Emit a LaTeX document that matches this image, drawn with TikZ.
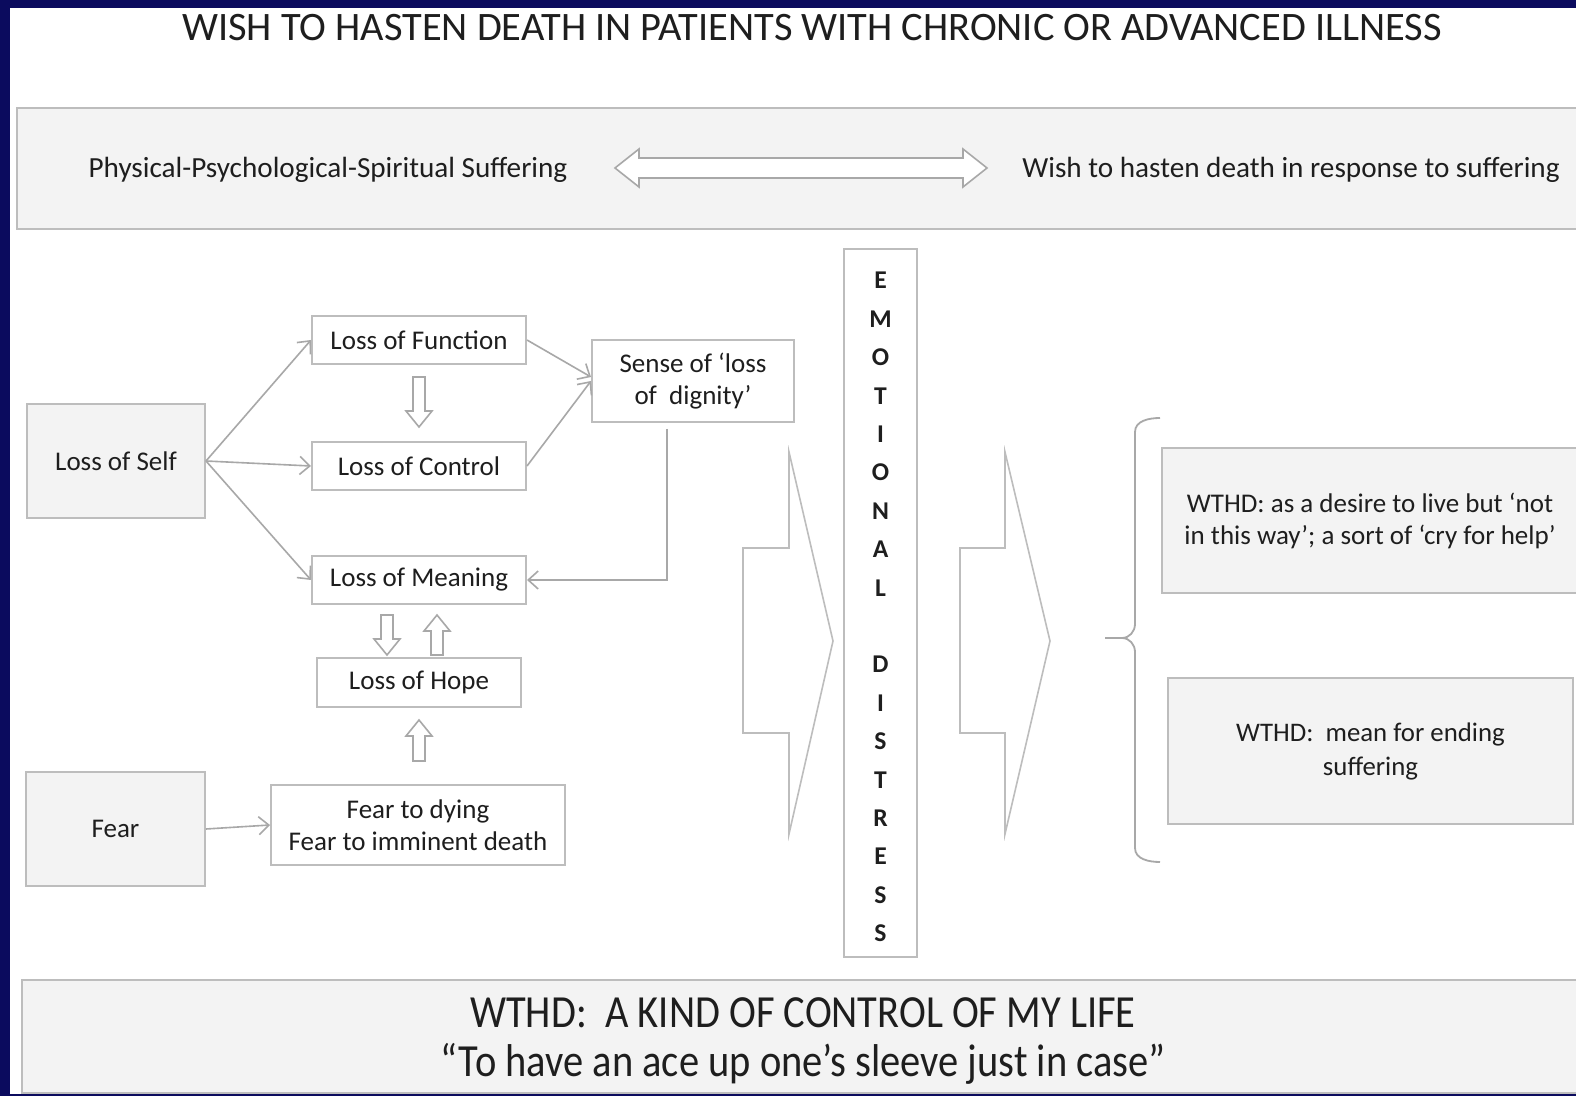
\documentclass[tikz,border=0pt]{standalone}
\usepackage{fontspec}
\setmainfont{Carlito}
\newfontfamily\condfont[FakeStretch=0.88]{Carlito}
\usetikzlibrary{arrows.meta,calc}
\definecolor{navy}{HTML}{0B0B5E}
\definecolor{bandfill}{HTML}{F3F3F3}
\definecolor{boxline}{HTML}{BDBDBD}
\definecolor{lineg}{HTML}{A8A8A8}
\definecolor{txt}{HTML}{1E1E1E}
\newcommand{\downblk}[3]{\draw[blk] (#1-6,#2) -- (#1+6,#2) -- (#1+6,#3-16) -- (#1+13,#3-16) -- (#1,#3) -- (#1-13,#3-16) -- (#1-6,#3-16) -- cycle;}
\newcommand{\upblk}[3]{\draw[blk] (#1-6,#3) -- (#1+6,#3) -- (#1+6,#2+16) -- (#1+13,#2+16) -- (#1,#2) -- (#1-13,#2+16) -- (#1-6,#2+16) -- cycle;}
\begin{document}
\begin{tikzpicture}[x=0.5pt,y=-0.5pt,
  box/.style={draw=boxline, line width=1pt, fill=white, text=txt, font=\fontsize{13.5}{16}\selectfont, align=center, inner sep=0pt},
  gbox/.style={box, fill=bandfill},
  conn/.style={draw=lineg, line width=0.8pt, -{Straight Barb[length=5pt,width=9pt]}},
  blk/.style={draw=lineg, line width=0.8pt, fill=white},
  lbl/.style={text=txt, font=\fontsize{14.6}{17}\selectfont, inner sep=0pt}]
\useasboundingbox (0,0) rectangle (1576,1096);
\fill[navy] (0,0) rectangle (1576,1096);
\fill[white] (10,8) rectangle (1576,1094);

% title
\node[text=txt, font=\fontsize{20.2}{22}\selectfont, inner sep=0pt] (title) at (812,28) {WISH TO HASTEN DEATH IN PATIENTS WITH CHRONIC OR ADVANCED ILLNESS};

% top band
\node[gbox, minimum width=782.5pt, minimum height=60.5pt] (band) at (799.5,168.5) {};
\node[lbl] (phys) at (328,170) {Physical-Psychological-Spiritual Suffering};
\node[lbl] (wish) at (1291,170) {Wish to hasten death in response to suffering};
\draw[blk] (615,168) -- (639,149) -- (639,158) -- (963,158) -- (963,149) -- (987,168) -- (963,187) -- (963,178) -- (639,178) -- (639,187) -- cycle;

% left nodes
\node[gbox, minimum width=89pt, minimum height=57pt] (self) at (116,461) {Loss of Self};
\node[box, minimum width=107pt, minimum height=24pt] (func) at (419,340) {Loss of Function};
\node[box, minimum width=107pt, minimum height=24pt] (ctrl) at (419,466) {Loss of Control};
\node[box, minimum width=107pt, minimum height=24pt] (mean) at (419,580) {Loss of Meaning};
\node[box, minimum width=102pt, minimum height=24.5pt] (hope) at (419,682.5) {Loss of Hope};
\node[box, minimum width=101pt, minimum height=41pt, font=\fontsize{13.5}{16}\selectfont] (sense) at (693,381) {Sense of ‘loss\\of~ dignity’};
\node[gbox, minimum width=89.5pt, minimum height=57pt] (fear) at (115.5,829) {Fear};
\node[box, minimum width=147pt, minimum height=40pt, font=\fontsize{13.5}{16}\selectfont] (feart) at (418,825) {Fear to dying\\Fear to imminent death};

% connectors
\draw[conn] (self.east) -- (func.west);
\draw[conn] (self.east) -- (ctrl.west);
\draw[conn] (self.east) -- (mean.west);
\draw[conn] (func.east) -- ([yshift=2pt]sense.west);
\draw[conn] (ctrl.east) -- ([yshift=0pt]sense.west);
\draw[conn] ([xshift=-13pt,yshift=-3pt]sense.south) |- (mean.east);
\draw[conn] (fear.east) -- (feart.west);

% hollow block arrows
\downblk{419}{377}{427}
\downblk{387}{615}{655}
\upblk{437}{615}{655}
\upblk{419}{720}{761}

% emotional distress
\node[box, minimum width=36.5pt, minimum height=354pt] (emo) at (880.5,603) {};
\node[text=txt, align=center, inner sep=0pt, font=\bfseries\fontsize{12.8}{19.2}\selectfont] (emotext) at (880.5,607)
  {E\\M\\O\\T\\I\\O\\N\\A\\L\\[19.2pt]D\\I\\S\\T\\R\\E\\S\\S};

% big chevrons
\draw[blk, draw=boxline] (743,548) -- (789,548) -- (789,452) -- (833,641) -- (789,834) -- (789,733) -- (743,733) -- cycle;
\draw[blk, draw=boxline] (960,548) -- (1005,548) -- (1005,452) -- (1050,641) -- (1005,834) -- (1005,733) -- (960,733) -- cycle;

% brace
\draw[draw=lineg, line width=0.9pt] (1160,418) to[out=180,in=90] (1135,432) -- (1135,624) to[out=-90,in=0] (1122,638) -- (1105,638);
\draw[draw=lineg, line width=0.9pt] (1122,638) to[out=0,in=90] (1135,652) -- (1135,848) to[out=-90,in=180] (1160,862);

% right boxes
\node[gbox, minimum width=208pt, minimum height=72.5pt, font=\fontsize{13.5}{16}\selectfont] (w1) at (1370,520.5) {WTHD: as a desire to live but ‘not\\in this way’; a sort of ‘cry for help’};
\node[gbox, minimum width=202.5pt, minimum height=73pt, font=\fontsize{13.4}{17}\selectfont] (w2) at (1370.5,751) {WTHD:~ mean for ending\\suffering};

% bottom band
\node[gbox, minimum width=780pt, minimum height=56.5pt] (bottom) at (802,1036.5) {};
\node[text=txt, align=center, inner sep=0pt, font=\condfont\fontsize{23}{24.5}\selectfont] (bottomtext) at (803,1041) {WTHD:~ A KIND OF CONTROL OF MY LIFE\\“To have an ace up one’s sleeve just in case”};
\end{tikzpicture}
\end{document}
